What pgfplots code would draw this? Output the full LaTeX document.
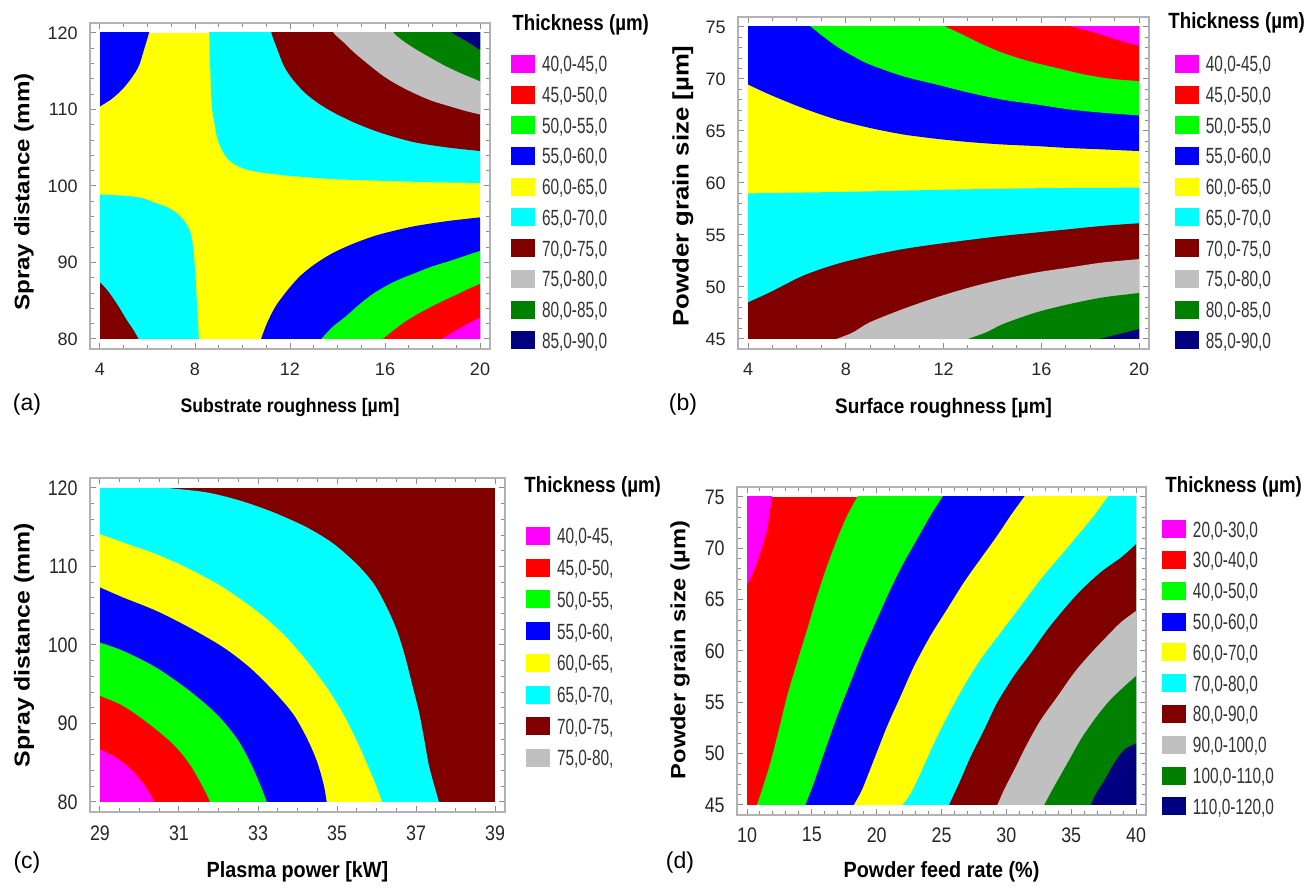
\documentclass[border=0pt]{standalone}
\usepackage{fontspec}
\setmainfont{Liberation Sans}
\newfontfamily\tickA{Liberation Sans}
\newfontfamily\tickB{Liberation Sans}[FakeStretch=0.85]
\newfontfamily\legfont{Liberation Sans}[FakeStretch=0.7]
\newfontfamily\labfont{Liberation Sans}[FakeStretch=0.9]
\newfontfamily\ylabfont{Liberation Sans}[FakeStretch=1.15]
\newfontfamily\titfont{Liberation Sans}[FakeStretch=0.85]
\usepackage{pgfplots}
\pgfplotsset{compat=1.18}
\definecolor{cmag}{RGB}{255,0,255}
\definecolor{cred}{RGB}{255,0,0}
\definecolor{cgreen}{RGB}{0,255,0}
\definecolor{cblue}{RGB}{0,0,255}
\definecolor{cyel}{RGB}{255,255,0}
\definecolor{ccyan}{RGB}{0,255,255}
\definecolor{cbrown}{RGB}{128,0,0}
\definecolor{cgray}{RGB}{192,192,192}
\definecolor{cdkgreen}{RGB}{0,128,0}
\definecolor{cnavy}{RGB}{0,0,128}
\pgfplotsset{
  reg/.style={draw=none, fill=#1, forget plot},
  sreg/.style={draw=none, fill=#1, forget plot, smooth},
  daxis/.style={scale only axis, hide axis, clip=true, anchor=south west},
  cstyle/.style={
    scale only axis, anchor=south west,
    axis line style={draw=black!30, line width=1pt},
    tick style={draw=black!45, line width=0.5pt},
    major tick length=3pt, minor tick length=1.8pt,
    tick align=inside, tick pos=both, ticklabel pos=left,
    /pgf/number format/assume math mode=true,
    ticklabel style={text=black!85},
    yticklabel style={inner sep=0pt, xshift=-6pt},
    xticklabel style={inner sep=0pt, yshift=-7pt},
    legend cell align=left,
    legend style={draw=none, fill=none, inner sep=0pt, outer sep=0pt,
      column sep=3.5pt, text=black!80,
      font=\legfont\fontsize{11pt}{11pt}\selectfont,
      nodes={inner sep=0pt, text height=7.9pt, text depth=0pt}},
    legend image code/.code={\path[##1,draw=none] (0pt,-4.5pt) rectangle (12pt,4.5pt);},
    xlabel style={anchor=base},
    ylabel style={anchor=center},
  }
}
\begin{document}
\begin{tikzpicture}
\path (0pt,0pt) rectangle (655pt,442pt);

% ================= (a) data
\begin{axis}[daxis, at={(50pt,272.5pt)}, width=190pt, height=153pt,
  xmin=4, xmax=20, ymin=80, ymax=120]
\addplot[reg=cyel] coordinates {(4,80)(20,80)(20,120)(4,120)};
\addplot[sreg=ccyan] coordinates {(8.55,126)(8.58,121.5)(8.6,120)(8.69,111.3)(8.8,108.5)(8.95,106.1)(9.15,104.6)(9.39,103.5)(9.8,102.6)(10.35,102)(11.2,101.6)(12.1,101.3)(13.8,100.9)(15.6,100.7)(17.8,100.5)(20,100.4)(20.8,100.37)(22,100.33)(22,126)};
\addplot[sreg=cbrown] coordinates {(11.0,126)(11.15,121.5)(11.22,120)(11.45,118)(11.75,115.65)(12.1,114)(12.62,112.2)(13.2,110.8)(13.84,109.6)(14.7,108.3)(15.59,107.2)(16.4,106.4)(17.34,105.65)(18.6,105.05)(20,104.57)(20.8,104.35)(22,104.05)(22,126)};
\addplot[sreg=cgray] coordinates {(13.2,126)(13.65,121.5)(13.84,120)(14.25,118.8)(14.72,117.4)(15.3,115.9)(15.94,114.35)(16.6,113.1)(17.34,111.96)(18.0,111.1)(18.74,110.4)(19.4,109.8)(20,109.35)(20.8,108.8)(22,108.1)(22,126)};
\addplot[sreg=cdkgreen] coordinates {(15.8,126)(16.2,121.5)(16.38,120)(16.8,118.9)(17.34,117.8)(17.9,116.8)(18.57,115.65)(19.3,114.6)(20,113.7)(20.6,112.9)(22,111.5)(22,126)};
\addplot[sreg=cnavy] coordinates {(17.5,122.5)(18.5,120.6)(18.83,120)(19.1,119.5)(19.44,118.9)(19.75,118.3)(20,117.8)(20.5,116.8)(22,113.8)(22,126)};
\addplot[sreg=cblue] coordinates {(6.5,126)(6.15,121.5)(6.06,120)(5.85,117.8)(5.63,115.65)(5.3,114)(4.93,112.6)(4.5,111.4)(4,110.4)(3.4,109.3)(2,107)(2,126)};
\addplot[sreg=ccyan] coordinates {(2,99.3)(3.3,99.0)(4,98.9)(5.1,98.7)(5.8,98.4)(6.33,97.8)(6.85,97.2)(7.29,96.3)(7.6,95.2)(7.81,93.9)(7.93,91.8)(7.99,89.6)(8.04,87.4)(8.07,85.2)(8.12,82.6)(8.16,80)(8.18,78.5)(8.25,74)(2,74)};
\addplot[sreg=cbrown] coordinates {(2,92)(3.6,88.6)(4,87.4)(4.3,86.4)(4.58,85.2)(4.85,83.9)(5.1,82.6)(5.38,81.3)(5.63,80)(5.9,78.6)(6.5,74)(2,74)};
\addplot[sreg=cblue] coordinates {(10.2,74)(10.62,78.6)(10.78,80)(11.05,82.2)(11.4,84.3)(11.9,86.4)(12.45,88.3)(13.1,89.9)(13.84,91.3)(14.7,92.5)(15.59,93.5)(16.45,94.2)(17.34,94.8)(18.6,95.4)(20,95.9)(21,96.2)(22,96.5)(22,74)};
\addplot[sreg=cgreen] coordinates {(12.0,74)(13.0,78.8)(13.32,80)(13.8,81.6)(14.37,83.0)(14.95,84.6)(15.59,86.1)(16.4,87.5)(17.34,88.7)(18.0,89.5)(18.74,90.2)(19.4,90.9)(20,91.5)(20.8,92.2)(22,93.2)(22,74)};
\addplot[sreg=cred] coordinates {(13.6,74)(15.5,78.9)(15.91,80)(16.35,81.1)(16.82,82.2)(17.4,83.3)(18.04,84.35)(18.6,85.2)(19.09,85.9)(19.55,86.6)(20,87.2)(20.8,88.2)(22,89.8)(22,74)};
\addplot[sreg=cmag] coordinates {(15.8,74)(17.9,79)(18.39,80)(18.75,80.7)(19.09,81.3)(19.55,82.1)(20,82.8)(20.7,83.9)(22,85.9)(22,74)};
\end{axis}
% (a) frame
\begin{axis}[cstyle, at={(45pt,267.5pt)}, width=200pt, height=163pt,
  xmin=3.579, xmax=20.421, ymin=78.693, ymax=121.307,
  xtick={4,8,12,16,20}, ytick={80,90,100,110,120}, minor x tick num=3, minor y tick num=4,
  ticklabel style={font=\tickA\fontsize{9pt}{9pt}\selectfont},
  xlabel={Substrate roughness [µm]},
  xlabel style={at={(axis description cs:0.5,-0.196)}, font=\labfont\bfseries\fontsize{9.8pt}{10pt}\selectfont},
  ylabel={Spray distance (mm)},
  ylabel style={at={(axis description cs:-0.165,0.4816)}, font=\ylabfont\bfseries\fontsize{10.5pt}{11pt}\selectfont},
  legend style={at={(1.0525,0.9018)}, anchor=north west, row sep=6.35pt},
]
\addlegendimage{fill=cmag}\addlegendentry{40,0-45,0}
\addlegendimage{fill=cred}\addlegendentry{45,0-50,0}
\addlegendimage{fill=cgreen}\addlegendentry{50,0-55,0}
\addlegendimage{fill=cblue}\addlegendentry{55,0-60,0}
\addlegendimage{fill=cyel}\addlegendentry{60,0-65,0}
\addlegendimage{fill=ccyan}\addlegendentry{65,0-70,0}
\addlegendimage{fill=cbrown}\addlegendentry{70,0-75,0}
\addlegendimage{fill=cgray}\addlegendentry{75,0-80,0}
\addlegendimage{fill=cdkgreen}\addlegendentry{80,0-85,0}
\addlegendimage{fill=cnavy}\addlegendentry{85,0-90,0}
\end{axis}

% ================= (b) data
\begin{axis}[daxis, at={(374pt,272.5pt)}, width=195.5pt, height=156pt,
  xmin=4, xmax=20, ymin=45, ymax=75]
\addplot[reg=cyel] coordinates {(4,45)(20,45)(20,75)(4,75)};
\addplot[sreg=cblue] coordinates {(2,71.6)(3.2,70.35)(4,69.47)(4.89,68.5)(6.25,67.2)(7.62,66.1)(8.98,65.3)(10.34,64.67)(11.71,64.25)(13.07,63.93)(14.44,63.7)(15.8,63.55)(17.16,63.36)(18.53,63.23)(20,63.07)(21,62.97)(22,62.87)(22,79)(2,79)};
\addplot[sreg=cgreen] coordinates {(5.3,77.5)(6.3,75.55)(6.59,75)(7.07,74.1)(7.62,73.15)(8.3,72.2)(8.98,71.4)(10.34,70.27)(11.71,69.47)(13.07,68.67)(14.44,68.0)(15.8,67.55)(17.16,67.07)(18.53,66.75)(20,66.5)(21,66.35)(22,66.2)(22,79)};
\addplot[sreg=cred] coordinates {(10,77.3)(11.7,75.45)(12.12,75)(12.8,74.26)(13.48,73.46)(14.44,72.5)(15.53,71.7)(16.62,71.07)(17.85,70.4)(18.94,70.0)(20,69.8)(21,69.62)(22,69.45)(22,79)};
\addplot[sreg=cmag] coordinates {(14.5,76.7)(16.8,75.3)(17.3,75)(17.98,74.6)(18.67,74.1)(19.35,73.6)(20,73.2)(20.8,72.7)(22,71.95)(22,79)};
\addplot[sreg=ccyan] coordinates {(2,58.94)(3,58.97)(4,59.0)(8,59.15)(12,59.35)(16,59.5)(20,59.55)(21,59.56)(22,59.57)(22,41)(2,41)};
\addplot[sreg=cbrown] coordinates {(2,46.3)(3.3,47.75)(4,48.52)(4.89,49.48)(6.25,51.08)(7.62,52.2)(8.98,53.0)(10.34,53.64)(11.71,54.12)(13.07,54.53)(14.44,54.92)(15.8,55.24)(17.16,55.56)(18.53,55.88)(20,56.13)(21,56.3)(22,56.47)(22,41)(2,41)};
\addplot[sreg=cgray] coordinates {(5,42.5)(7.1,44.5)(7.62,45)(8.3,45.64)(8.98,46.6)(10.34,47.88)(11.71,49.0)(13.07,49.96)(14.44,50.76)(15.8,51.4)(17.16,51.88)(18.53,52.36)(20,52.68)(21,52.9)(22,53.1)(22,41)};
\addplot[sreg=cdkgreen] coordinates {(10.5,42.5)(12.45,44.5)(13.0,45)(13.75,45.64)(14.44,46.44)(15.8,47.56)(17.16,48.36)(18.53,49.0)(20,49.42)(21,49.7)(22,49.98)(22,41)};
\addplot[sreg=cnavy] coordinates {(15.5,43.3)(17.9,44.7)(18.39,45)(19.2,45.48)(20,45.96)(21,46.56)(22,47.16)(22,41)};
\end{axis}
% (b) frame
\begin{axis}[cstyle, at={(369pt,267.5pt)}, width=205.5pt, height=166pt,
  xmin=3.591, xmax=20.409, ymin=44.038, ymax=75.962,
  xtick={4,8,12,16,20}, ytick={45,50,55,60,65,70,75}, minor x tick num=3, minor y tick num=4,
  ticklabel style={font=\tickA\fontsize{9pt}{9pt}\selectfont},
  xlabel={Surface roughness [µm]},
  xlabel style={at={(axis description cs:0.5,-0.193)}, font=\labfont\bfseries\fontsize{10.5pt}{11pt}\selectfont},
  ylabel={Powder grain size [µm]},
  ylabel style={at={(axis description cs:-0.134,0.491)}, font=\ylabfont\bfseries\fontsize{11.2pt}{12pt}\selectfont},
  legend style={at={(1.063,0.8855)}, anchor=north west, row sep=6.35pt},
]
\addlegendimage{fill=cmag}\addlegendentry{40,0-45,0}
\addlegendimage{fill=cred}\addlegendentry{45,0-50,0}
\addlegendimage{fill=cgreen}\addlegendentry{50,0-55,0}
\addlegendimage{fill=cblue}\addlegendentry{55,0-60,0}
\addlegendimage{fill=cyel}\addlegendentry{60,0-65,0}
\addlegendimage{fill=ccyan}\addlegendentry{65,0-70,0}
\addlegendimage{fill=cbrown}\addlegendentry{70,0-75,0}
\addlegendimage{fill=cgray}\addlegendentry{75,0-80,0}
\addlegendimage{fill=cdkgreen}\addlegendentry{80,0-85,0}
\addlegendimage{fill=cnavy}\addlegendentry{85,0-90,0}
\end{axis}

% ================= (c) data
\begin{axis}[daxis, at={(50pt,41pt)}, width=197.5pt, height=157pt,
  xmin=29, xmax=39, ymin=80, ymax=120]
\addplot[reg=cbrown] coordinates {(29,80)(39,80)(39,120)(29,120)};
\addplot[sreg=ccyan] coordinates {(28.5,121.2)(30.2,120.3)(30.72,120)(31.69,119.45)(32.54,118.4)(33.39,116.9)(34.23,115.0)(34.91,112.9)(35.5,110.3)(35.93,107.8)(36.26,104.8)(36.52,101.8)(36.73,98.4)(36.9,95.0)(37.07,91.6)(37.2,88.2)(37.32,84.8)(37.45,82.3)(37.58,80)(37.65,78.5)(37.8,74)(27.5,74)(27.5,126)};
\addplot[sreg=cyel] coordinates {(27.5,116.8)(28.5,115.0)(29,114.13)(29.58,113.07)(30.42,111.58)(31.27,109.67)(32.12,107.33)(32.96,104.36)(33.64,101.4)(34.23,98.0)(34.74,94.6)(35.16,91.2)(35.5,87.8)(35.8,84.4)(36.01,81.83)(36.14,80)(36.2,78.5)(36.35,74)(27.5,74)};
\addplot[sreg=cblue] coordinates {(27.5,110.5)(28.5,108.4)(29,107.33)(29.58,106.06)(30.42,104.36)(31.27,102.2)(32.12,99.7)(32.79,97.13)(33.39,94.15)(33.89,91.2)(34.23,88.2)(34.49,85.2)(34.66,82.25)(34.74,80)(34.78,78.5)(34.9,74)(27.5,74)};
\addplot[sreg=cgreen] coordinates {(27.5,103)(28.5,101.2)(29,100.3)(29.58,99.26)(30.42,97.13)(31.27,94.15)(31.95,91.2)(32.45,88.2)(32.79,85.2)(33.05,82.25)(33.22,80)(33.28,78.5)(33.45,74)(27.5,74)};
\addplot[sreg=cred] coordinates {(27.5,96.8)(28.5,94.6)(29,93.52)(29.58,92.24)(30.25,89.9)(30.85,87.35)(31.27,84.8)(31.61,81.83)(31.78,80)(31.85,78.5)(32.1,74)(27.5,74)};
\addplot[sreg=cmag] coordinates {(27.5,90.6)(28.6,87.75)(29,86.72)(29.41,85.65)(29.83,83.95)(30.17,81.83)(30.38,80)(30.55,78.5)(31.2,74)(27.5,74)};
\end{axis}
% (c) frame
\begin{axis}[cstyle, at={(45pt,36pt)}, width=207.5pt, height=167pt,
  xmin=28.747, xmax=39.253, ymin=78.726, ymax=121.274,
  xtick={29,31,33,35,37,39}, ytick={80,90,100,110,120}, minor x tick num=3, minor y tick num=4,
  ticklabel style={font=\tickB\fontsize{10.5pt}{10.5pt}\selectfont},
  xticklabel style={yshift=0.5pt},
  xlabel={Plasma power [kW]},
  xlabel style={at={(axis description cs:0.5,-0.1976)}, font=\labfont\bfseries\fontsize{11pt}{12pt}\selectfont},
  ylabel={Spray distance (mm)},
  ylabel style={at={(axis description cs:-0.159,0.5)}, font=\ylabfont\bfseries\fontsize{10.8pt}{11pt}\selectfont},
  legend style={at={(1.0506,0.853)}, anchor=north west, row sep=6.85pt},
]
\addlegendimage{fill=cmag}\addlegendentry{40,0-45,}
\addlegendimage{fill=cred}\addlegendentry{45,0-50,}
\addlegendimage{fill=cgreen}\addlegendentry{50,0-55,}
\addlegendimage{fill=cblue}\addlegendentry{55,0-60,}
\addlegendimage{fill=cyel}\addlegendentry{60,0-65,}
\addlegendimage{fill=ccyan}\addlegendentry{65,0-70,}
\addlegendimage{fill=cbrown}\addlegendentry{70,0-75,}
\addlegendimage{fill=cgray}\addlegendentry{75,0-80,}
\end{axis}

% ================= (d) data
\begin{axis}[daxis, at={(373.5pt,39.5pt)}, width=194.5pt, height=154pt,
  xmin=10, xmax=40, ymin=45, ymax=75]
\addplot[reg=cred] coordinates {(10,45)(40,45)(40,75)(10,75)};
\addplot[sreg=cmag] coordinates {(12.4,79)(12.0,75.6)(11.93,75)(11.55,71.9)(11.03,69.6)(10.52,67.8)(10.13,66.7)(10,66.5)(9.6,65.9)(8.5,63.5)(6.5,79)};
\addplot[sreg=cgreen] coordinates {(20.0,78.5)(18.8,75.7)(18.5,75)(17.73,73.2)(16.95,70.9)(16.18,68.3)(15.41,65.4)(14.64,62.1)(13.86,58.9)(13.09,55.6)(12.45,52.3)(11.8,49.1)(11.16,46.5)(10.77,45)(10.6,44.3)(10.0,41)(44,41)(44,79)};
\addplot[sreg=cblue] coordinates {(27,79)(25.4,75.7)(25.07,75)(24.16,73.2)(23.13,70.9)(22.1,68.6)(21.07,66.0)(20.04,63.1)(19.01,60.2)(17.98,56.9)(16.95,53.6)(16.05,50.4)(15.15,47.1)(14.51,45)(14.3,44.3)(13.5,41)(44,41)(44,79)};
\addplot[sreg=cyel] coordinates {(33.8,79)(31.8,75.7)(31.37,75)(30.34,73.2)(29.31,71.25)(28.03,69.0)(26.74,66.7)(25.45,64.1)(24.16,61.5)(22.88,58.5)(21.85,55.6)(20.82,52.7)(19.79,49.4)(18.88,46.5)(18.24,45)(18.0,44.3)(17.0,41)(44,41)(44,79)};
\addplot[sreg=ccyan] coordinates {(40.5,79)(38.3,75.7)(37.81,75)(36.78,73.2)(35.5,71.25)(34.21,69.3)(32.66,67.0)(31.12,64.4)(29.57,61.8)(28.03,59.2)(26.74,56.6)(25.45,53.6)(24.42,51.0)(23.39,48.1)(22.62,46.1)(21.98,45)(21.6,44.3)(20.0,41)(44,41)(44,79)};
\addplot[sreg=cbrown] coordinates {(43.5,74.3)(40.8,71.3)(40,70.4)(38.84,69.1)(37.3,67.7)(35.75,65.9)(34.47,64.1)(33.18,62.1)(31.89,59.8)(30.6,57.6)(29.31,55.0)(28.28,52.3)(27.25,49.7)(26.35,47.1)(25.58,45)(25.35,44.3)(24.2,41)(44,41)};
\addplot[sreg=cgray] coordinates {(43.5,67.2)(40.8,64.65)(40,63.9)(38.84,62.8)(37.81,61.5)(36.53,59.8)(35.24,57.9)(33.96,55.6)(32.66,53.3)(31.63,51.0)(30.6,48.4)(29.83,46.5)(29.31,45)(29.1,44.3)(28.0,41)(44,41)};
\addplot[sreg=cdkgreen] coordinates {(43.5,61.5)(40.8,58.45)(40,57.56)(38.84,56.25)(37.81,54.95)(36.78,53.3)(35.75,51.4)(34.72,49.1)(33.69,46.8)(32.92,45)(32.65,44.3)(31.4,41)(44,41)};
\addplot[sreg=cnavy] coordinates {(43.5,53.4)(40.7,51.47)(40,51.0)(39.1,50.4)(38.33,49.1)(37.56,47.4)(36.91,46.1)(36.52,45)(36.3,44.3)(35.2,41)(44,41)};
\end{axis}
% (d) frame
\begin{axis}[cstyle, at={(368.5pt,34.5pt)}, width=204.5pt, height=164pt,
  xmin=9.229, xmax=40.771, ymin=44.026, ymax=75.974,
  xtick={10,15,20,25,30,35,40}, ytick={45,50,55,60,65,70,75}, minor x tick num=4, minor y tick num=4,
  ticklabel style={font=\tickB\fontsize{10.5pt}{10.5pt}\selectfont},
  xticklabel style={yshift=1pt},
  xlabel={Powder feed rate (\%)},
  xlabel style={at={(axis description cs:0.5,-0.192)}, font=\labfont\bfseries\fontsize{11pt}{12pt}\selectfont},
  ylabel={Powder grain size (µm)},
  ylabel style={at={(axis description cs:-0.139,0.503)}, font=\ylabfont\bfseries\fontsize{10.3pt}{11pt}\selectfont},
  legend style={at={(1.039,0.899)}, anchor=north west, row sep=6.4pt},
]
\addlegendimage{fill=cmag}\addlegendentry{20,0-30,0}
\addlegendimage{fill=cred}\addlegendentry{30,0-40,0}
\addlegendimage{fill=cgreen}\addlegendentry{40,0-50,0}
\addlegendimage{fill=cblue}\addlegendentry{50,0-60,0}
\addlegendimage{fill=cyel}\addlegendentry{60,0-70,0}
\addlegendimage{fill=ccyan}\addlegendentry{70,0-80,0}
\addlegendimage{fill=cbrown}\addlegendentry{80,0-90,0}
\addlegendimage{fill=cgray}\addlegendentry{90,0-100,0}
\addlegendimage{fill=cdkgreen}\addlegendentry{100,0-110,0}
\addlegendimage{fill=cnavy}\addlegendentry{110,0-120,0}
\end{axis}

% legend titles and panel labels
\node[anchor=west, inner sep=0pt, font=\titfont\bfseries\fontsize{11pt}{12pt}\selectfont] at (256pt,429.5pt) {Thickness (µm)};
\node[anchor=west, inner sep=0pt, font=\titfont\bfseries\fontsize{11pt}{12pt}\selectfont] at (584pt,430.5pt) {Thickness (µm)};
\node[anchor=west, inner sep=0pt, font=\titfont\bfseries\fontsize{11pt}{12pt}\selectfont] at (262pt,198.5pt) {Thickness (µm)};
\node[anchor=west, inner sep=0pt, font=\titfont\bfseries\fontsize{11pt}{12pt}\selectfont] at (582.5pt,198.5pt) {Thickness (µm)};
\node[inner sep=0pt, font=\fontsize{11.5pt}{12pt}\selectfont] at (13.5pt,239.5pt) {(a)};
\node[inner sep=0pt, font=\fontsize{11.5pt}{12pt}\selectfont] at (341.5pt,239.5pt) {(b)};
\node[inner sep=0pt, font=\fontsize{11.5pt}{12pt}\selectfont] at (13.5pt,10.5pt) {(c)};
\node[inner sep=0pt, font=\fontsize{11.5pt}{12pt}\selectfont] at (340pt,10.5pt) {(d)};
\end{tikzpicture}
\end{document}
